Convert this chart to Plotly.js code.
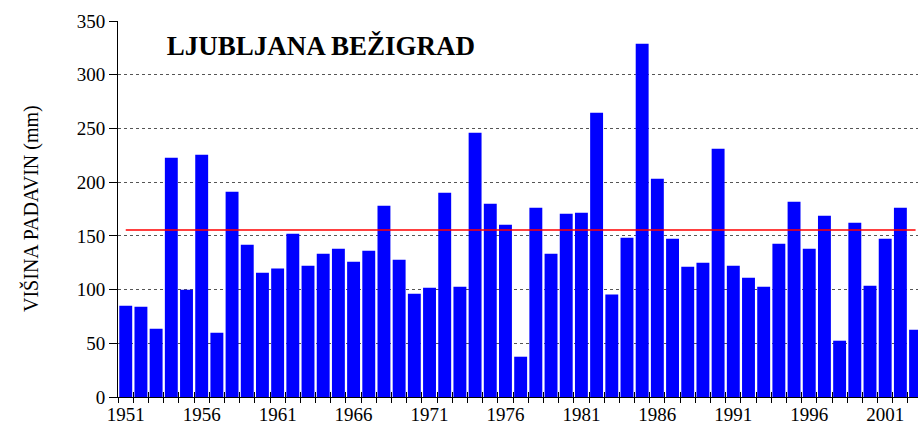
<!DOCTYPE html>
<html>
<head>
<meta charset="utf-8">
<script src="https://cdn.plot.ly/plotly-3.0.1.min.js"></script>
<style>html,body{margin:0;padding:0;background:#fff;}
#warm{position:absolute;left:0;top:0;font-family:'Liberation Serif';font-size:2px;color:transparent;z-index:-1;line-height:2px;}
#chart{position:relative;z-index:1;}</style>
</head>
<body>
<div id="warm">VIŠINA PADAVIN (mm) 0123456789 <b>LJUBLJANA BEŽIGRAD</b></div>
<div id="chart" style="width:918px;height:424px"></div>
<script>
// Data
const years = [];
for (let y = 1951; y <= 2003; y++) years.push(y);
const precipitation = [
  85.0, 84.1, 63.6, 222.8, 99.9, 225.6, 59.9, 191.1, 141.8, 115.7,
  119.5, 152.0, 122.2, 133.4, 138.1, 126.0, 136.2, 178.1, 127.8, 96.2,
  101.8, 190.2, 102.7, 246.0, 180.0, 160.4, 37.5, 176.2, 133.4, 170.6,
  171.6, 264.7, 95.3, 148.3, 328.9, 203.2, 147.4, 121.3, 125.0, 231.2,
  122.2, 111.1, 102.7, 142.7, 181.8, 138.1, 168.8, 52.4, 162.3, 103.6,
  147.4, 176.2, 62.7
];
const average = 155.4;
const labelYears = [1951, 1956, 1961, 1966, 1971, 1976, 1981, 1986, 1991, 1996, 2001];
const yTicks = [0, 50, 100, 150, 200, 250, 300, 350];

const boundaries = years.map(y => y - 0.5).concat([years[years.length - 1] + 0.5]);
const FAM = 'Liberation Serif';

const traces = [
  {
    type: 'bar',
    x: years,
    y: precipitation,
    width: 0.85,
    marker: {color: '#0000FF'}
  },
  {
    type: 'scatter',
    mode: 'lines',
    x: years,
    y: years.map(() => average),
    line: {color: '#FF0000', width: 1.6},
    xaxis: 'x3'
  }
];

const xRange = [1950.49, 2003.16];

const layout = {
  width: 918,
  height: 424,
  margin: {l: 118, r: 0, t: 21, b: 27},
  showlegend: false,
  title: {
    text: '<b>LJUBLJANA BEŽIGRAD</b>',
    font: {family: FAM, size: 27},
    xref: 'container', yref: 'container',
    x: 0.1816, xanchor: 'left',
    y: 0.893, yanchor: 'middle'
  },
  xaxis: {
    range: xRange,
    tickmode: 'array',
    tickvals: labelYears,
    ticktext: labelYears.map(String),
    ticks: '',
    showgrid: false,
    zeroline: false,
    showline: true,
    linecolor: '#000',
    tickfont: {family: FAM, size: 19},
    minor: {
      tickmode: 'array',
      tickvals: boundaries,
      ticks: 'outside',
      ticklen: 5,
      tickcolor: '#000',
      showgrid: false
    }
  },
  xaxis3: {
    overlaying: 'x',
    matches: 'x',
    anchor: 'y',
    tickmode: 'array',
    tickvals: boundaries,
    ticks: 'inside',
    ticklen: 5,
    tickcolor: '#000',
    showticklabels: false,
    showgrid: false,
    zeroline: false
  },
  xaxis2: {
    overlaying: 'x',
    anchor: 'y',
    side: 'top',
    range: xRange,
    showline: true,
    linecolor: '#9a9a9a',
    ticks: '',
    showticklabels: false,
    showgrid: false,
    zeroline: false
  },
  yaxis: {
    range: [0, 350],
    tickmode: 'array',
    tickvals: yTicks,
    ticks: 'outside',
    ticklen: 8,
    tickcolor: '#000',
    showline: true,
    linecolor: '#000',
    showgrid: true,
    gridcolor: '#555',
    griddash: 'dot',
    zeroline: false,
    tickfont: {family: FAM, size: 19}
  },
  annotations: [{
    text: 'VIŠINA PADAVIN (mm)',
    xref: 'paper', yref: 'paper',
    x: (31 - 118) / 800, y: 0.5,
    xanchor: 'center', yanchor: 'middle',
    textangle: -90,
    showarrow: false,
    font: {family: FAM, size: 20}
  }],
  font: {color: '#000'}
};

Plotly.newPlot('chart', traces, layout, {staticPlot: true});
if (document.fonts && document.fonts.load) {
  Promise.all([
    document.fonts.load('19px "Liberation Serif"'),
    document.fonts.load('bold 27px "Liberation Serif"')
  ]).then(() => Plotly.newPlot('chart', traces, layout, {staticPlot: true}))
    .catch(() => {});
}
</script>
</body>
</html>
